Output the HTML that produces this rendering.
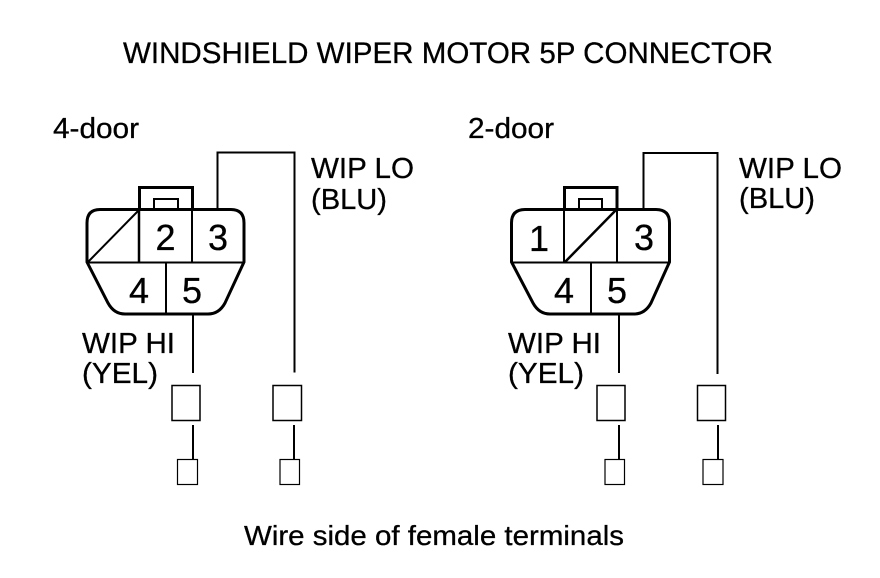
<!DOCTYPE html>
<html>
<head>
<meta charset="utf-8">
<style>
html,body{margin:0;padding:0;background:#fff;width:880px;height:578px;overflow:hidden}
svg{display:block}
text{font-family:"Liberation Sans",sans-serif;fill:#000;stroke:#000;stroke-width:.3px}
</style>
</head>
<body>
<svg width="880" height="578" viewBox="0 0 880 578" xmlns="http://www.w3.org/2000/svg">
<text x="123" y="63" font-size="30" textLength="650" lengthAdjust="spacingAndGlyphs">WINDSHIELD WIPER MOTOR 5P CONNECTOR</text>
<text x="244" y="545" font-size="28" textLength="380" lengthAdjust="spacingAndGlyphs">Wire side of female terminals</text>

<text x="53" y="138" font-size="29" textLength="86" lengthAdjust="spacingAndGlyphs">4-door</text>
<text x="468" y="138" font-size="29" textLength="86" lengthAdjust="spacingAndGlyphs">2-door</text>

<text x="311" y="178" font-size="29" textLength="103" lengthAdjust="spacingAndGlyphs">WIP LO</text>
<text x="311" y="209" font-size="29" textLength="76" lengthAdjust="spacingAndGlyphs">(BLU)</text>
<text x="739" y="178" font-size="29" textLength="103" lengthAdjust="spacingAndGlyphs">WIP LO</text>
<text x="739" y="208" font-size="29" textLength="76" lengthAdjust="spacingAndGlyphs">(BLU)</text>

<text x="82" y="353" font-size="29" textLength="93" lengthAdjust="spacingAndGlyphs">WIP HI</text>
<text x="82" y="383" font-size="29" textLength="76" lengthAdjust="spacingAndGlyphs">(YEL)</text>
<text x="508" y="353" font-size="29" textLength="93" lengthAdjust="spacingAndGlyphs">WIP HI</text>
<text x="508" y="383" font-size="29" textLength="76" lengthAdjust="spacingAndGlyphs">(YEL)</text>

<g font-size="36" text-anchor="middle">
<text x="165.500" y="250">2</text>
<text x="218" y="250">3</text>
<text x="139" y="303">4</text>
<text x="192" y="303">5</text>
<text x="539" y="251">1</text>
<text x="644" y="250">3</text>
<text x="564" y="303">4</text>
<text x="617" y="303">5</text>
</g>

<!-- Left connector -->
<g fill="none" stroke="#000">
<polyline points="217.500,209 217.500,152.500 294.500,152.500 294.500,372.500" stroke-width="2"/>
<path d="M100,209.500 H231 Q244,209.500 244,223 V262 L225,303 Q219,314 208,314 H125 Q114,314 108,303 L87,262 V223 Q87,209.500 100,209.500 Z" stroke-width="3"/>
<line x1="87" y1="262.500" x2="244" y2="262.500" stroke-width="2"/>
<line x1="139" y1="209" x2="139" y2="262" stroke-width="2.500"/>
<line x1="192" y1="209" x2="192" y2="262" stroke-width="2"/>
<line x1="166" y1="262" x2="166" y2="314" stroke-width="2"/>
<line x1="139" y1="210" x2="88" y2="262" stroke-width="2"/>
<polyline points="139.500,209 139.500,187.500 192.500,187.500 192.500,209" stroke-width="3"/>
<polyline points="154,209 154,199 178,199 178,209" stroke-width="2"/>
<line x1="193" y1="314" x2="193" y2="373" stroke-width="2"/>

<rect x="172" y="385.500" width="28" height="35" stroke-width="1.500"/>
<rect x="273" y="385.500" width="28.500" height="35" stroke-width="1.500"/>
<line x1="193" y1="425" x2="193" y2="460" stroke-width="2"/>
<line x1="294" y1="425" x2="294" y2="460" stroke-width="2"/>
<rect x="177.500" y="459.500" width="20" height="25" stroke-width="1.200"/>
<rect x="280" y="459.500" width="19.500" height="25" stroke-width="1.200"/>
</g>

<!-- Right connector -->
<g fill="none" stroke="#000">
<polyline points="643.500,209 643.500,153 717.500,153 717.500,374" stroke-width="2"/>
<path d="M525,209.500 H656 Q669.500,209.500 669.500,223 V262 L651,303 Q645,314 634,314 H550 Q539,314 533,303 L511.500,262 V223 Q511.500,209.500 525,209.500 Z" stroke-width="3"/>
<line x1="511" y1="262.500" x2="669" y2="262.500" stroke-width="2"/>
<line x1="564" y1="209" x2="564" y2="262" stroke-width="2"/>
<line x1="617" y1="209" x2="617" y2="262" stroke-width="2"/>
<line x1="591" y1="262" x2="591" y2="314" stroke-width="2"/>
<line x1="616" y1="210" x2="565" y2="262" stroke-width="2.500"/>
<polyline points="564.500,209 564.500,187.500 617,187.500 617,209" stroke-width="3"/>
<polyline points="579,209 579,199 602,199 602,209" stroke-width="2"/>
<line x1="619" y1="314" x2="619" y2="373" stroke-width="2"/>

<rect x="597" y="385.500" width="28" height="35" stroke-width="1.500"/>
<rect x="697.500" y="385.500" width="28" height="35" stroke-width="1.500"/>
<line x1="619" y1="425" x2="619" y2="460" stroke-width="2"/>
<line x1="718" y1="425" x2="718" y2="460" stroke-width="2"/>
<rect x="605" y="459.500" width="19.500" height="25" stroke-width="1.200"/>
<rect x="703" y="459.500" width="20" height="25" stroke-width="1.200"/>
</g>
</svg>
</body>
</html>
